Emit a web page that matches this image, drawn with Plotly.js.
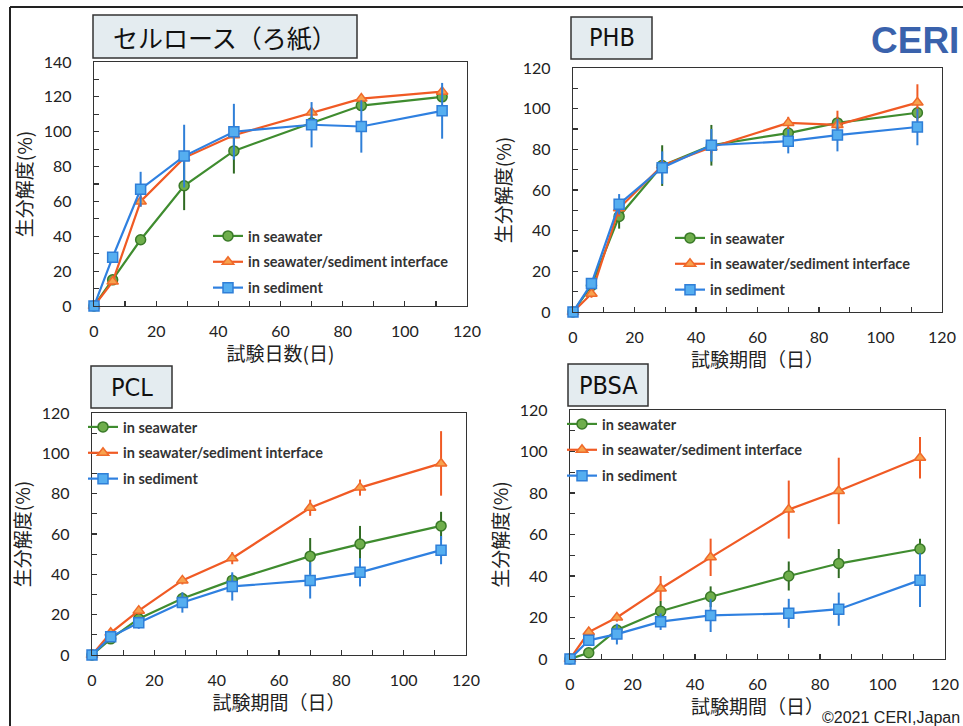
<!DOCTYPE html>
<html>
<head>
<meta charset="utf-8">
<script src="https://cdn.plot.ly/plotly-3.0.1.min.js"></script>
<style>
html,body{margin:0;padding:0;background:#fff;}
#chart{width:963px;height:726px;}
</style>
</head>
<body>
<div id="chart"></div>
<script>
// ---- data ----
const days = [0, 6, 15, 29, 45, 70, 86, 112];
const seriesNames = ["in seawater", "in seawater/sediment interface", "in sediment"];
const panelTitles = ["セルロース（ろ紙）", "PHB", "PCL", "PBSA"];
const xTitles = ["試験日数(日)", "試験期間（日）", "試験期間（日）", "試験期間（日）"];
const yTitle = "生分解度(%)";
const xTicks = [0, 20, 40, 60, 80, 100, 120];

const celSea = [0, 15, 38, 69, 89, 105, 115, 120];
const celSeaErr = [0, 2, 2, 14, 13, 4, 3, 2];
const celInt = [0, 14, 60, 85, 98, 111, 119, 123];
const celIntErr = [0, 2, 3, 2, 2, 2, 2, 2];
const celSed = [0, 28, 67, 86, 100, 104, 103, 112];
const celSedErr = [0, 3, 10, 18, 16, 13, 15, 16];

const phbSea = [0, 13, 47, 72, 82, 88, 93, 98];
const phbSeaErr = [0, 2, 6, 10, 10, 3, 3, 3];
const phbInt = [0, 9, 51, 72, 81, 93, 92, 103];
const phbIntErr = [0, 2, 4, 3, 3, 3, 7, 9];
const phbSed = [0, 14, 53, 71, 82, 84, 87, 91];
const phbSedErr = [0, 2, 5, 8, 8, 6, 8, 9];

const pclSea = [0, 8, 18, 28, 37, 49, 55, 64];
const pclSeaErr = [0, 1, 2, 3, 3, 9, 9, 7];
const pclInt = [0, 11, 22, 37, 48, 73, 83, 95];
const pclIntErr = [0, 2, 2, 2, 3, 4, 4, 16];
const pclSed = [0, 9, 16, 26, 34, 37, 41, 52];
const pclSedErr = [0, 1, 3, 5, 7, 9, 7, 7];

const pbsaSea = [0, 3, 14, 23, 30, 40, 46, 53];
const pbsaSeaErr = [0, 1, 2, 5, 5, 7, 7, 5];
const pbsaInt = [0, 13, 20, 34, 49, 72, 81, 97];
const pbsaIntErr = [0, 2, 2, 6, 9, 14, 16, 10];
const pbsaSed = [0, 9, 12, 18, 21, 22, 24, 38];
const pbsaSedErr = [0, 1, 5, 4, 8, 7, 8, 13];

// ---- styles ----
const W = 963, H = 726;
const styles = [
  {line:'#3f8c2f', fill:'#6fae4c', edge:'#3a7a28', err:'#2f6a22', symbol:'circle'},
  {line:'#f05a24', fill:'#f7a24e', edge:'#f06a2a', err:'#f05a24', symbol:'triangle-up'},
  {line:'#2f80e0', fill:'#55aef0', edge:'#2f7fd8', err:'#2f7fd8', symbol:'square'}
];
const narrow = '"DejaVu Sans Condensed", "Liberation Sans Narrow", "DejaVu Sans", sans-serif';
const panels = [
  {vals:[celSea, celInt, celSed], errs:[celSeaErr, celIntErr, celSedErr], box:[94,467,62,306], ymax:140,
   tbox:[93,357,15,58], tfont:25, tfam:'"Noto Sans CJK JP", sans-serif', leg:[208,220]},
  {vals:[phbSea, phbInt, phbSed], errs:[phbSeaErr, phbIntErr, phbSedErr], box:[573,942,68,312], ymax:120,
   tbox:[571,652,17,59], tfont:25, tfam:narrow, leg:[670,222]},
  {vals:[pclSea, pclInt, pclSed], errs:[pclSeaErr, pclIntErr, pclSedErr], box:[92,466,413,655], ymax:120,
   tbox:[91,172,366,408], tfont:25, tfam:narrow, leg:[83,411]},
  {vals:[pbsaSea, pbsaInt, pbsaSed], errs:[pbsaSeaErr, pbsaIntErr, pbsaSedErr], box:[570,945,410,659], ymax:120,
   tbox:[568,648,364,406], tfont:25, tfam:narrow, leg:[562,408]}
];

const px = x => x / W;
const py = y => 1 - y / H;

const data = [];
const layout = {
  width: W, height: H,
  margin: {l:0, r:0, t:0, b:0},
  paper_bgcolor: '#ffffff', plot_bgcolor: '#ffffff',
  font: {family: 'Lato, "Noto Sans CJK JP", sans-serif', color: '#222'},
  showlegend: true,
  shapes: [], annotations: []
};

panels.forEach((p, i) => {
  const n = i + 1;
  const xa = n === 1 ? 'xaxis' : 'xaxis' + n;
  const ya = n === 1 ? 'yaxis' : 'yaxis' + n;
  const xr = n === 1 ? 'x' : 'x' + n;
  const yr = n === 1 ? 'y' : 'y' + n;
  const lg = n === 1 ? 'legend' : 'legend' + n;
  p.vals.forEach((v, s) => {
    const st = styles[s];
    data.push({
      type: 'scatter', mode: 'lines+markers',
      x: days, y: v, xaxis: xr, yaxis: yr,
      name: seriesNames[s], legend: lg, legendgroup: 'g' + n + s,
      cliponaxis: false,
      line: {color: st.line, width: 2.2},
      marker: {symbol: st.symbol, size: 10, color: st.fill, line: {color: st.edge, width: 1.5}},
      error_y: {type: 'data', array: p.errs[s], visible: true, color: st.err, thickness: 2, width: 0}
    });
  });
  const [x0, x1, y0, y1] = p.box;
  layout[xa] = {
    domain: [px(x0), px(x1)], anchor: yr, range: [0, 120],
    tickvals: xTicks, ticks: 'inside', ticklen: 5, tickwidth: 1.2, tickcolor: '#333',
    minor: {dtick: 10, ticks: 'inside', ticklen: 5, tickwidth: 1.2, tickcolor: '#333'},
    showline: true, linecolor: '#333', linewidth: 1.3, mirror: true,
    showgrid: false, zeroline: false, ticklabelstandoff: 10,
    tickfont: {size: 16, color: '#222'},
    title: {text: xTitles[i], font: {size: 19, family: '"Noto Sans CJK JP", sans-serif', color: '#222'}, standoff: 3}
  };
  layout[ya] = {
    domain: [py(y1), py(y0)], anchor: xr, range: [0, p.ymax], dtick: 20,
    ticks: 'inside', ticklen: 5, tickwidth: 1.2, tickcolor: '#333',
    minor: {dtick: 10, ticks: 'inside', ticklen: 5, tickwidth: 1.2, tickcolor: '#333'},
    showline: true, linecolor: '#333', linewidth: 1.3, mirror: true,
    showgrid: false, zeroline: false, ticklabelstandoff: 18,
    tickfont: {size: 16, color: '#222'},
    title: {text: yTitle, font: {size: 19, family: '"Noto Sans CJK JP", sans-serif', color: '#222'}, standoff: 6}
  };
  layout[lg] = {
    x: px(p.leg[0]), y: py(p.leg[1]), xanchor: 'left', yanchor: 'top',
    bgcolor: 'rgba(0,0,0,0)', borderwidth: 0, tracegroupgap: 4, itemwidth: 30,
    font: {size: 14.5, color: '#333', family: 'Lato, sans-serif', weight: 'bold'}
  };
  const [bx0, bx1, by0, by1] = p.tbox;
  layout.shapes.push({type: 'rect', xref: 'paper', yref: 'paper',
    x0: px(bx0), x1: px(bx1), y0: py(by1), y1: py(by0),
    fillcolor: '#e4ecf0', line: {color: '#333', width: 1.5}});
  layout.annotations.push({xref: 'paper', yref: 'paper', x: px((bx0 + bx1) / 2), y: py((by0 + by1) / 2),
    xanchor: 'center', yanchor: 'middle', showarrow: false, text: panelTitles[i],
    font: {size: p.tfont, family: p.tfam, color: '#111'}});
});

// outer frame
layout.shapes.push({type: 'line', xref: 'paper', yref: 'paper', x0: px(10), x1: 1, y0: py(7), y1: py(7), line: {color: '#222', width: 2}});
layout.shapes.push({type: 'line', xref: 'paper', yref: 'paper', x0: px(10), x1: px(10), y0: py(7), y1: 0, line: {color: '#222', width: 2}});
// logo and credit
layout.annotations.push({xref: 'paper', yref: 'paper', x: px(961), y: py(40), xanchor: 'right', yanchor: 'middle',
  showarrow: false, text: '<b>CERI</b>', font: {size: 37, family: '"Liberation Sans", Arial, sans-serif', color: '#3a62ac'}});
layout.annotations.push({xref: 'paper', yref: 'paper', x: px(962), y: py(717), xanchor: 'right', yanchor: 'middle',
  showarrow: false, text: '©2021 CERI,Japan', font: {size: 16, family: '"Liberation Sans", Arial, sans-serif', color: '#222'}});

Plotly.newPlot('chart', data, layout, {staticPlot: true});
</script>
</body>
</html>
